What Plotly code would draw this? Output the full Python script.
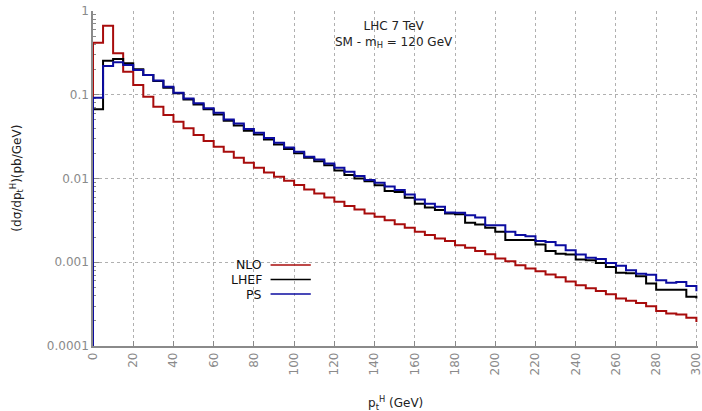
import plotly.graph_objects as go

# Higgs transverse-momentum spectrum, 5 GeV bins from 0 to 300 GeV
# (last entry is the 300-305 GeV bin, visible only as the closing step)
bin_low = list(range(0, 305, 5))

nlo = [0.418, 0.668, 0.312, 0.188, 0.131, 0.0946, 0.072, 0.0572, 0.0476, 0.0397,
       0.033, 0.028, 0.0239, 0.0209, 0.0177, 0.0154, 0.0134, 0.0118, 0.0105, 0.0094,
       0.00834, 0.0074, 0.00664, 0.00594, 0.00527, 0.00468, 0.00427, 0.00383, 0.00349, 0.00318,
       0.00285, 0.00258, 0.00231, 0.00211, 0.00192, 0.00179, 0.0016, 0.00149, 0.00136, 0.00125,
       0.00111, 0.00103, 0.00092, 0.00084, 0.00078, 0.000714, 0.00066, 0.00059, 0.00053, 0.00049,
       0.000455, 0.000416, 0.000369, 0.000346, 0.000327, 0.000299, 0.000262, 0.000244, 0.000238, 0.000217,
       0.000194]

lhef = [0.0669, 0.255, 0.267, 0.237, 0.201, 0.172, 0.146, 0.121, 0.104, 0.088,
        0.0767, 0.0669, 0.0583, 0.049, 0.043, 0.0371, 0.0336, 0.0293, 0.0255, 0.0225,
        0.020, 0.0177, 0.0161, 0.0144, 0.0125, 0.011, 0.0100, 0.0093, 0.0083, 0.0071,
        0.0069, 0.0059, 0.0050, 0.0045, 0.0042, 0.00383, 0.00375, 0.00296, 0.00283, 0.00258,
        0.00231, 0.00184, 0.00184, 0.00184, 0.00163, 0.00136, 0.00126, 0.00124, 0.00108, 0.00106,
        0.00098, 0.00088, 0.00075, 0.00074, 0.00068, 0.000558, 0.00047, 0.00047, 0.00047, 0.000386,
        0.00037]

ps = [0.092, 0.22, 0.244, 0.226, 0.197, 0.172, 0.148, 0.125, 0.106, 0.0905,
      0.0789, 0.0688, 0.061, 0.0508, 0.0455, 0.0389, 0.0352, 0.0304, 0.0267, 0.0235,
      0.0209, 0.0182, 0.0169, 0.0151, 0.0134, 0.012, 0.0107, 0.0096, 0.0089, 0.0080,
      0.00727, 0.00646, 0.0056, 0.0050, 0.0046, 0.00394, 0.0039, 0.00365, 0.00343, 0.00277,
      0.00277, 0.00231, 0.00211, 0.00205, 0.00179, 0.00175, 0.0016, 0.00139, 0.00124, 0.00113,
      0.00109, 0.00098, 0.00091, 0.0008, 0.00073, 0.00071, 0.00061, 0.00057, 0.00058, 0.00052,
      0.00045]

series_names = ["NLO", "LHEF", "PS"]
series_colors = ["#a80c0c", "#000000", "#0c0ca0"]

x_ticks = list(range(0, 301, 20))
y_ticks = [1, 0.1, 0.01, 0.001, 0.0001]
y_tick_text = ["1", "0.1", "0.01", "0.001", "0.0001"]

floor_value = 1e-6  # histogram starts from zero at the left edge

FONT = "DejaVu Sans"
GRAY = "#8a8a8a"
TEXT = "#222222"

fig = go.Figure()
for name, vals, col in zip(series_names, [nlo, lhef, ps], series_colors):
    fig.add_trace(go.Scatter(
        x=[bin_low[0]] + bin_low,
        y=[floor_value] + vals,
        mode="lines",
        line=dict(color=col, width=2, shape="hv"),
        name=name,
        showlegend=False,
    ))

minor_y = [m * 10.0 ** e for e in range(-4, 0) for m in range(2, 10)]

fig.update_layout(
    width=702, height=411,
    margin=dict(l=93, r=4.4, t=11, b=65),
    paper_bgcolor="white", plot_bgcolor="white",
    font=dict(family=FONT, size=12, color=TEXT),
    xaxis=dict(
        range=[0, 300.8], tickvals=x_ticks, tickangle=-90,
        tickfont=dict(color=GRAY, size=12), ticklabeloverflow="allow",
        showline=True, linecolor=GRAY, linewidth=1.5,
        ticks="inside", ticklen=5, tickcolor=GRAY,
        showgrid=True, gridcolor="#b0b0b0", griddash="dot", gridwidth=1,
        zeroline=False, layer="below traces", automargin=False,
    ),
    yaxis=dict(
        type="log", range=[-4, 0], tickvals=y_ticks, ticktext=y_tick_text,
        tickfont=dict(color=GRAY, size=12),
        showline=True, linecolor=GRAY, linewidth=1.5,
        ticks="inside", ticklen=6, tickcolor=GRAY,
        minor=dict(tickvals=minor_y, ticks="inside", ticklen=3, tickcolor=GRAY, showgrid=False),
        showgrid=True, gridcolor="#b0b0b0", griddash="dot", gridwidth=1,
        zeroline=False, layer="below traces", automargin=False,
    ),
)

# Axis titles
fig.add_annotation(
    x=0.5, y=-0.17, xref="paper", yref="paper",
    text="p<sub>t</sub><sup>H</sup> (GeV)", showarrow=False,
    xanchor="center", yanchor="middle", font=dict(size=12, color=TEXT),
)
fig.add_annotation(
    x=-0.127, y=0.5, xref="paper", yref="paper",
    text="(dσ/dp<sub>t</sub><sup>H</sup>)(pb/GeV)", showarrow=False, textangle=-90,
    xanchor="center", yanchor="middle", font=dict(size=12, color=TEXT),
)

# Plot label
fig.add_annotation(
    x=0.4975, y=0.93, xref="paper", yref="paper",
    text="LHC 7 TeV<br>SM - m<sub>H</sub> = 120 GeV",
    showarrow=False, xanchor="center", yanchor="middle",
    font=dict(size=12, color=TEXT),
)

# Key: label on the left, line sample on the right
key_y = [0.242, 0.1985, 0.155]
for name, col, ky in zip(series_names, series_colors, key_y):
    fig.add_annotation(
        x=0.282, y=ky, xref="paper", yref="paper", text=name,
        showarrow=False, xanchor="right", yanchor="middle",
        font=dict(size=12.5, color="#111111"),
    )
    fig.add_shape(
        type="line", xref="paper", yref="paper",
        x0=0.2935, x1=0.36, y0=ky, y1=ky,
        line=dict(color=col, width=1.5),
    )

fig.write_html("out.html")
